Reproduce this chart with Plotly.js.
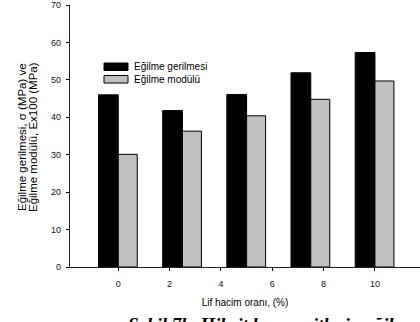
<!DOCTYPE html>
<html>
<head>
<meta charset="utf-8">
<script src="https://cdn.plot.ly/plotly-3.0.1.min.js"></script>
<style>
  html, body { margin: 0; padding: 0; background: #fff; overflow: hidden; }
  #chart { width: 420px; height: 322px; }
</style>
</head>
<body>
<div id="chart"></div>
<script>
// Data
const groupPositions = [0, 2.5, 5, 7.5, 10];
const egilmeGerilmesi = [46.0, 41.8, 46.1, 51.9, 57.3];
const egilmeModulu = [30.1, 36.3, 40.4, 44.8, 49.7];
const xTickValues = [0, 2, 4, 6, 8, 10];
const xTickLabels = ['0', '2', '4', '6', '8', '10'];
const yTickValues = [0, 10, 20, 30, 40, 50, 60, 70];
const seriesNames = ['Eğilme gerilmesi', 'Eğilme modülü'];
const yTitleLines = ['Eğilme gerilmesi, σ (MPa) ve', 'Eğilme modülü, Ex100 (MPa)'];
const xTitle = 'Lif hacim oranı, (%)';
const caption = 'Şekil 7b. Hibrit kompozitlerin eğilme özellikleri';

const FONT = 'Arial, "Liberation Sans", sans-serif';

const traces = [
  {
    type: 'bar', name: seriesNames[0], x: groupPositions, y: egilmeGerilmesi,
    width: 0.77, offset: -0.77,
    marker: { color: '#000000', line: { color: '#000000', width: 1 } },
    showlegend: false, hoverinfo: 'skip'
  },
  {
    type: 'bar', name: seriesNames[1], x: groupPositions, y: egilmeModulu,
    width: 0.74, offset: 0,
    marker: { color: '#c0c0c0', line: { color: '#000000', width: 1 } },
    showlegend: false, hoverinfo: 'skip'
  }
];

const layout = {
  width: 420, height: 322,
  margin: { l: 70, r: 0, t: 5, b: 55 },
  paper_bgcolor: '#ffffff', plot_bgcolor: '#ffffff',
  barmode: 'overlay',
  font: { family: FONT, size: 9, color: '#000' },
  xaxis: {
    type: 'linear', range: [-1.88, 11.755],
    tickmode: 'array', tickvals: xTickValues, ticktext: xTickLabels,
    ticks: 'outside', ticklen: 3, tickwidth: 1, tickcolor: '#000',
    ticklabelstandoff: 5,
    showline: true, linecolor: '#222', linewidth: 1.2,
    showgrid: false, zeroline: false,
    tickfont: { family: FONT, size: 9, color: '#111' },
    title: { text: xTitle, font: { family: FONT, size: 10, color: '#000' }, standoff: 11 },
    automargin: false
  },
  yaxis: {
    range: [0, 70],
    tickmode: 'array', tickvals: yTickValues,
    ticks: 'outside', ticklen: 3, tickwidth: 1, tickcolor: '#000',
    ticklabelstandoff: 3,
    showline: true, linecolor: '#222', linewidth: 1.2,
    showgrid: false, zeroline: false,
    tickfont: { family: FONT, size: 9, color: '#111' },
    automargin: false
  },
  shapes: [
    { type: 'rect', xref: 'paper', yref: 'paper', x0: (104 - 70) / 350, x1: (128 - 70) / 350,
      y0: (267 - 70.5) / 262, y1: (267 - 63) / 262, fillcolor: '#000', line: { color: '#000', width: 1 } },
    { type: 'rect', xref: 'paper', yref: 'paper', x0: (104 - 70) / 350, x1: (128 - 70) / 350,
      y0: (267 - 83) / 262, y1: (267 - 75.5) / 262, fillcolor: '#c0c0c0', line: { color: '#000', width: 1 } }
  ],
  annotations: [
    { xref: 'paper', yref: 'paper', x: (132 - 70) / 350, y: (267 - 67) / 262, xanchor: 'left', yanchor: 'middle',
      text: seriesNames[0], showarrow: false, font: { family: FONT, size: 10, color: '#000' } },
    { xref: 'paper', yref: 'paper', x: (132 - 70) / 350, y: (267 - 79.5) / 262, xanchor: 'left', yanchor: 'middle',
      text: seriesNames[1], showarrow: false, font: { family: FONT, size: 10, color: '#000' } },
    { xref: 'paper', yref: 'paper', x: (22 - 70) / 350, y: (267 - 137) / 262, xanchor: 'center', yanchor: 'middle',
      textangle: -90, text: yTitleLines[0], showarrow: false, font: { family: FONT, size: 11.5, color: '#000' } },
    { xref: 'paper', yref: 'paper', x: (33 - 70) / 350, y: (267 - 137) / 262, xanchor: 'center', yanchor: 'middle',
      textangle: -90, text: yTitleLines[1], showarrow: false, font: { family: FONT, size: 11.5, color: '#000' } },
    { xref: 'paper', yref: 'paper', x: (126 - 70) / 350, y: (267 - 312) / 262, xanchor: 'left', yanchor: 'top',
      text: '<b><i>' + caption + '</i></b>', showarrow: false,
      font: { family: '"Times New Roman", "Liberation Serif", serif', size: 19, color: '#000' } }
  ]
};

Plotly.newPlot('chart', traces, layout, { staticPlot: true, displayModeBar: false });
</script>
</body>
</html>
